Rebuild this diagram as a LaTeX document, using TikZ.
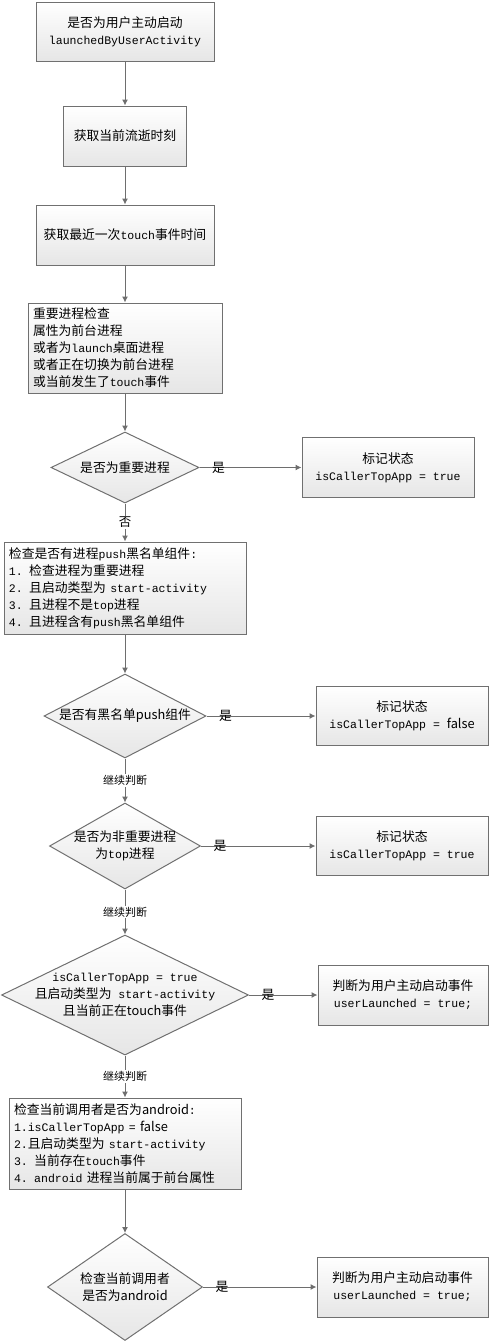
\documentclass[tikz,border=0pt]{standalone}
\usepackage{fontspec}
\setmainfont{Noto Sans CJK SC}
\setmonofont{Liberation Mono}[Scale=0.9]
\usetikzlibrary{arrows.meta, shapes.geometric}

\definecolor{edgegray}{HTML}{6E6E6E}
\definecolor{boxline}{HTML}{707070}
\definecolor{boxfill}{HTML}{E6E6E6}

\begin{document}
\begin{tikzpicture}[
    x=1pt, y=-1pt,
    >={Latex[length=6pt,width=6pt]},
    font=\fontsize{12.8}{17}\selectfont,
    stepbox/.style={draw=boxline, line width=1pt, top color=white, bottom color=boxfill, align=center, inner sep=5pt},
    listbox/.style={stepbox, align=left},
    check/.style={diamond, draw=boxline, line width=1pt, top color=white, bottom color=boxfill, align=center, inner ysep=0pt, inner xsep=-20pt, aspect=2},
    flow/.style={->, draw=edgegray, line width=1pt},
    yeslbl/.style={pos=0, anchor=west, xshift=12pt, inner sep=0pt},
    nextlbl/.style={midway, fill=white, inner sep=1pt, font=\fontsize{11}{13}\selectfont}
]
\useasboundingbox (0,0) rectangle (490,1341);

% main column
\node[stepbox, minimum width=178pt, minimum height=59pt] (start) at (125,31.5) {是否为用户主动启动\\\texttt{launchedByUserActivity}};
\node[stepbox, minimum width=123pt, minimum height=60pt] (elapsed) at (125,136) {获取当前流逝时刻};
\node[stepbox, minimum width=178pt, minimum height=60pt] (lasttouch) at (125,235) {获取最近一次\texttt{touch}事件时间};
\node[listbox, text width=184pt, minimum height=90pt] (impchk) at (125,348) {重要进程检查\\属性为前台进程\\或者为\texttt{launch}桌面进程\\或者正在切换为前台进程\\或当前发生了\texttt{touch}事件};
\node[check, minimum width=148pt, minimum height=71pt] (isimp) at (125,467.5) {是否为重要进程};
\node[listbox, text width=232pt, minimum height=92pt] (pushchk) at (125,588) {检查是否有进程\texttt{push}黑名单组件\texttt{:}\\\texttt{1. }检查进程为重要进程\\\texttt{2. }且启动类型为\texttt{ start-activity}\\\texttt{3. }且进程不是\texttt{top}进程\\\texttt{4. }且进程含有\texttt{push}黑名单组件};
\node[check, minimum width=162pt, minimum height=84pt] (hasblk) at (125,716) {是否有黑名单push组件};
\node[check, minimum width=151pt, minimum height=86pt] (nonimptop) at (125,846) {是否为非重要进程\\为\texttt{top}进程};
\node[check, minimum width=247pt, minimum height=120pt] (toptouch) at (125,995) {\texttt{isCallerTopApp = true}\\且启动类型为\texttt{ start-activity}\\且当前正在touch事件};
\node[listbox, text width=222pt, minimum height=91pt] (androidchk) at (125,1143.5) {检查当前调用者是否为android\texttt{:}\\\texttt{1.isCallerTopApp = }false\\\texttt{2.}且启动类型为\texttt{ start-activity}\\\texttt{3. }当前存在\texttt{touch}事件\\\texttt{4. android }进程当前属于前台属性};
\node[check, minimum width=155pt, minimum height=107pt] (isandroid) at (125,1287) {检查当前调用者\\是否为android};

% right column
\node[stepbox, minimum width=172pt, minimum height=60pt] (mark1) at (388,467.5) {标记状态\\\texttt{isCallerTopApp = true}};
\node[stepbox, minimum width=172pt, minimum height=59pt] (mark2) at (402,716) {标记状态\\\texttt{isCallerTopApp = }false};
\node[stepbox, minimum width=172pt, minimum height=59pt] (mark3) at (402,846) {标记状态\\\texttt{isCallerTopApp = true}};
\node[stepbox, minimum width=170pt, minimum height=60pt] (user1) at (403,995) {判断为用户主动启动事件\\\texttt{userLaunched = true;}};
\node[stepbox, minimum width=171pt, minimum height=60pt] (user2) at (402.5,1287) {判断为用户主动启动事件\\\texttt{userLaunched = true;}};

% connectors
\draw[flow] (start) -- (elapsed);
\draw[flow] (elapsed) -- (lasttouch);
\draw[flow] (lasttouch) -- (impchk);
\draw[flow] (impchk) -- (isimp);
\draw[flow] (isimp) -- node[yeslbl] {是} (mark1);
\draw[flow] (isimp) -- node[nextlbl, font=\fontsize{12.5}{14}\selectfont] {否} (pushchk);
\draw[flow] (pushchk) -- (hasblk);
\draw[flow] (hasblk) -- node[yeslbl] {是} (mark2);
\draw[flow] (hasblk) -- node[nextlbl] {继续判断} (nonimptop);
\draw[flow] (nonimptop) -- node[yeslbl] {是} (mark3);
\draw[flow] (nonimptop) -- node[nextlbl] {继续判断} (toptouch);
\draw[flow] (toptouch) -- node[yeslbl] {是} (user1);
\draw[flow] (toptouch) -- node[nextlbl] {继续判断} (androidchk);
\draw[flow] (androidchk) -- (isandroid);
\draw[flow] (isandroid) -- node[yeslbl] {是} (user2);

\end{tikzpicture}
\end{document}
